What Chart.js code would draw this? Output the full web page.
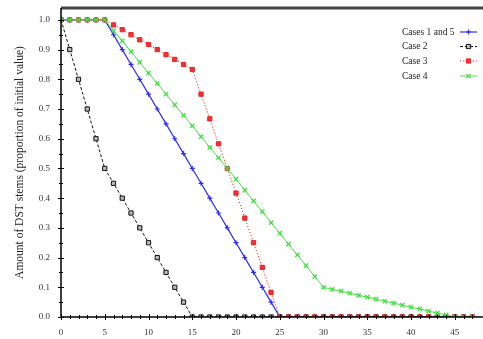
<!DOCTYPE html>
<html><head><meta charset="utf-8">
<script src="https://cdn.jsdelivr.net/npm/chart.js@4/dist/chart.umd.min.js"></script>
<style>html,body{margin:0;padding:0;background:#fff}#wrap{width:483px;height:339px}</style>
</head><body><div id="wrap"><canvas id="c" width="483" height="339"></canvas></div>
<script>
const days = Array.from({length: 48}, (_, i) => i);
const seriesNames = ["Cases 1 and 5", "Case 2", "Case 3", "Case 4"];
const case1and5 = [1,1,1,1,1,1,0.95,0.90,0.85,0.80,0.75,0.70,0.65,0.60,0.55,0.50,0.45,0.40,0.35,0.30,0.25,0.20,0.15,0.10,0.05,0,
  0,0,0,0,0,0,0,0,0,0,0,0,0,0,0,0,0,0,0,0,0,0];
const case2 = [1,0.9,0.8,0.7,0.6,0.5,0.45,0.40,0.35,0.30,0.25,0.20,0.15,0.10,0.05,0,
  0,0,0,0,0,0,0,0,0,0,0,0,0,0,0,0,0,0,0,0,0,0,0,0,0,0,0,0,0,0,0,0];
const case3 = [1,1,1,1,1,1,0.983,0.967,0.95,0.933,0.917,0.90,0.883,0.867,0.85,0.833,0.75,0.667,0.583,0.50,0.417,0.333,0.25,0.167,0.083,0,
  0,0,0,0,0,0,0,0,0,0,0,0,0,0,0,0,0,0,0,0,0,0];
const case4 = [1,1,1,1,1,1,0.964,0.929,0.893,0.857,0.821,0.786,0.75,0.714,0.679,0.643,0.607,0.571,0.536,0.50,
  0.464,0.427,0.391,0.355,0.318,0.282,0.245,0.209,0.173,0.136,0.10,
  0.093,0.087,0.080,0.073,0.067,0.060,0.053,0.047,0.040,0.033,0.027,0.020,0.013,0.007,0,0,0];
const xTicks = [0,5,10,15,20,25,30,35,40,45];
const yTicks = [0,0.1,0.2,0.3,0.4,0.5,0.6,0.7,0.8,0.9,1.0];
const yTitle = "Amount of DST stems (proportion of initial value)";

const pts = arr => arr.map((v, i) => ({x: days[i], y: v}));
const serif = "'Liberation Serif', 'DejaVu Serif', serif";

const datasets = [
  {label: seriesNames[0], data: pts(case1and5), borderColor: '#2a2aff', backgroundColor: '#2a2aff',
   borderWidth: 1.2, pointStyle: 'cross', pointRadius: 2.5, pointBorderWidth: 1.2, order: 4},
  {label: seriesNames[1], data: pts(case2), borderColor: '#111', backgroundColor: '#bbb',
   borderWidth: 1, borderDash: [3, 2], pointStyle: 'rect', pointRadius: 3, pointBorderWidth: 1, order: 3},
  {label: seriesNames[2], data: pts(case3), borderColor: '#ee2222', backgroundColor: '#ee3333',
   borderWidth: 1, borderDash: [1.2, 2], pointStyle: 'rect', pointRadius: 3, pointBorderWidth: 1, order: 2},
  {label: seriesNames[3], data: pts(case4), borderColor: '#44e044', backgroundColor: '#44e044',
   borderWidth: 1, pointStyle: 'crossRot', pointRadius: 3, pointBorderWidth: 1.4, order: 1}
];

const decor = {
  id: 'decor',
  afterDraw(chart) {
    const ctx = chart.ctx, a = chart.chartArea;
    const xs = chart.scales.x, ys = chart.scales.y;
    ctx.save();
    ctx.strokeStyle = '#444'; ctx.lineWidth = 3;
    ctx.beginPath(); ctx.moveTo(a.left, a.top); ctx.lineTo(483, a.top); ctx.stroke();
    ctx.strokeStyle = '#000'; ctx.lineWidth = 1.5;
    ctx.beginPath(); ctx.moveTo(a.left, a.top); ctx.lineTo(a.left, a.bottom); ctx.lineTo(483, a.bottom); ctx.stroke();
    ctx.lineWidth = 1;
    for (let v = 0; v <= xs.max; v += 1) {
      const px = Math.round(xs.getPixelForValue(v)) + 0.5;
      const len = v % 5 === 0 ? 3 : 2;
      ctx.beginPath(); ctx.moveTo(px, a.bottom - len); ctx.lineTo(px, a.bottom + len); ctx.stroke();
    }
    for (let k = 0; k <= 20; k++) {
      const v = k * 0.05;
      const py = Math.round(ys.getPixelForValue(v)) + 0.5;
      const len = k % 2 === 0 ? 3 : 2;
      ctx.beginPath(); ctx.moveTo(a.left - len, py); ctx.lineTo(a.left + len, py); ctx.stroke();
    }
    ctx.font = "9.5px " + serif;
    ctx.textBaseline = 'middle'; ctx.textAlign = 'left';
    const rows = [32, 46.5, 61, 76];
    chart.data.datasets.forEach((ds, i) => {
      const y = rows[i];
      ctx.fillStyle = '#222';
      ctx.fillText(ds.label, 402, y);
      ctx.strokeStyle = ds.borderColor; ctx.lineWidth = ds.borderWidth;
      ctx.setLineDash(ds.borderDash || []);
      ctx.beginPath(); ctx.moveTo(460, y); ctx.lineTo(477, y); ctx.stroke();
      ctx.setLineDash([]);
      ctx.fillStyle = ds.backgroundColor;
      ctx.lineWidth = ds.pointBorderWidth;
      Chart.helpers.drawPoint(ctx, {pointStyle: ds.pointStyle, radius: ds.pointRadius, borderWidth: ds.pointBorderWidth, rotation: 0}, 468.5, y);
    });
    ctx.restore();
  }
};

new Chart(document.getElementById('c'), {
  type: 'line',
  data: {datasets},
  options: {
    responsive: false, animation: false, devicePixelRatio: 1,
    layout: {padding: {top: 8, right: 0, left: 0, bottom: 0}},
    plugins: {legend: {display: false}, tooltip: {enabled: false}},
    elements: {line: {tension: 0}},
    scales: {
      x: {
        type: 'linear', min: 0, max: 47.6,
        grid: {display: false}, border: {display: false},
        afterFit(s) { s.height = 22; s.paddingLeft = 0; s.paddingRight = 0; },
        afterBuildTicks(s) { s.ticks = xTicks.map(v => ({value: v})); },
        ticks: {font: {family: serif, size: 9}, color: '#333', padding: 2, maxRotation: 0, autoSkip: false}
      },
      y: {
        type: 'linear', min: 0, max: 1.04,
        grid: {display: false}, border: {display: false},
        afterFit(s) { s.width = 61; s.paddingTop = 0; s.paddingBottom = 0; },
        afterBuildTicks(s) { s.ticks = yTicks.map(v => ({value: v})); },
        ticks: {font: {family: serif, size: 9}, color: '#333', padding: 3,
          callback: v => Number(v).toFixed(1)},
        title: {display: true, text: yTitle, font: {family: serif, size: 11.5}, color: '#222', padding: {top: 13, bottom: 0}}
      }
    }
  },
  plugins: [decor]
});
</script></body></html>
